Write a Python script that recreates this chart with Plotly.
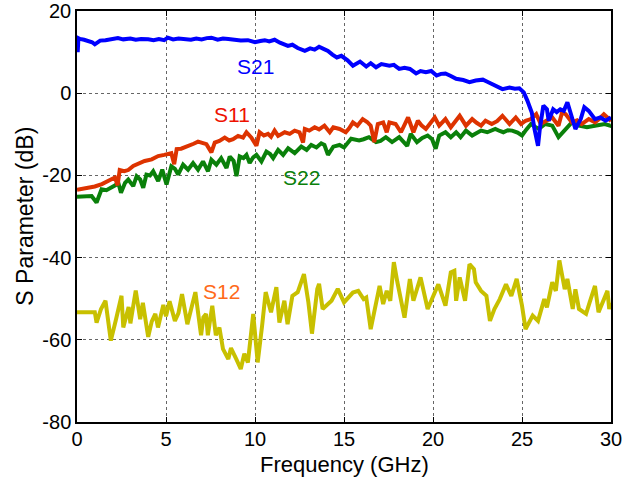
import plotly.graph_objects as go

# ---------------- data ----------------
s21_f = [0, 0.04, 0.08, 0.17, 0.4, 0.64, 0.85, 1.0, 1.3, 1.6,
         2.0, 2.3, 2.6, 3.0, 3.3, 3.6, 4.0, 4.3, 4.6, 4.9,
         5.1, 5.4, 5.7, 6.05, 6.4, 6.7, 7.0, 7.3, 7.55, 7.9,
         8.2, 8.5, 8.85, 9.2, 9.6, 10.0, 10.3, 10.55, 10.8, 11.1,
         11.4, 11.85, 12.1, 12.4, 12.8, 13.1, 13.35, 13.6, 13.85, 14.1,
         14.35, 14.6, 14.85, 15.2, 15.5, 15.9, 16.25, 16.5, 16.8, 17.1,
         17.55, 17.8, 18.1, 18.4, 18.7, 19.05, 19.3, 19.6, 19.9, 20.2,
         20.45, 20.7, 21.0, 21.3, 21.7, 22.05, 22.4, 22.8, 23.05, 23.35,
         23.6, 23.9, 24.3, 24.6, 24.85, 25.1, 25.3, 25.55, 25.7, 25.9,
         26.0, 26.2, 26.4, 26.5, 26.75, 26.95, 27.15, 27.35, 27.55, 27.8,
         28.0, 28.3, 28.5, 28.75, 29.1, 29.4, 29.7, 30.0]
s21_db = [13.6, 10.0, 13.4, 13.2, 13.0, 12.8, 12.4, 11.9, 12.8, 12.9,
          13.1, 13.4, 13.1, 13.3, 13.0, 13.2, 13.1, 12.9, 13.2, 12.9,
          13.5, 13.1, 13.3, 13.2, 13.0, 13.3, 13.1, 13.4, 13.5, 13.0,
          13.3, 13.2, 13.0, 12.8, 12.9, 12.4, 12.7, 12.9, 12.6, 13.0,
          12.3, 11.5, 11.8, 11.0, 10.3, 10.9, 10.6, 11.3, 10.8, 10.3,
          9.4, 8.7, 9.1, 8.0, 6.7, 7.7, 6.5, 7.3, 6.3, 7.1,
          6.7, 6.9, 5.9, 6.2, 5.9, 4.8, 5.4, 5.1, 5.4, 4.3,
          4.7, 4.8, 4.2, 3.5, 3.2, 2.7, 3.1, 3.3, 2.8, 2.2,
          1.8, 1.0, 1.4, 1.1, 1.2, 0.2, -1.8, -4.7, -8.7, -12.8,
          -8.7, -3.0, -3.9, -6.7, -3.9, -4.6, -3.9, -4.3, -2.2, -5.5,
          -8.7, -6.3, -3.4, -4.3, -6.3, -5.9, -6.7, -5.9]

s11_f = [0, 0.5, 1.0, 1.4, 1.76, 2.13, 2.28, 2.4, 2.65, 2.88,
         3.16, 3.35, 3.6, 3.8, 4.2, 4.56, 4.9, 5.3, 5.46, 5.6,
         5.85, 6.06, 6.3, 6.55, 6.8, 7.05, 7.27, 7.55, 7.74, 8.0,
         8.3, 8.55, 8.77, 9.05, 9.33, 9.52, 9.8, 10.08, 10.26, 10.5,
         10.73, 10.9, 11.1, 11.3, 11.5, 11.67, 11.95, 12.23, 12.5, 12.7,
         12.8, 13.05, 13.35, 13.6, 13.9, 14.2, 14.4, 14.75, 15.1, 15.3,
         15.5, 15.75, 16.05, 16.3, 16.5, 16.7, 16.9, 17.2, 17.4, 17.55,
         17.9, 18.2, 18.6, 18.9, 19.15, 19.35, 19.6, 19.85, 20.1, 20.35,
         20.7, 21.0, 21.25, 21.5, 21.85, 22.2, 22.45, 22.7, 22.95, 23.3,
         23.6, 23.9, 24.3, 24.65, 24.95, 25.2, 25.5, 25.8, 26.05, 26.4,
         26.7, 27.05, 27.25, 27.45, 27.8, 28.1, 28.35, 28.75, 29.1, 29.35,
         29.6, 29.9, 30.0]
s11_db = [-23.5, -23.1, -22.7, -22.1, -21.3, -20.5, -22.4, -18.7, -19.0, -18.7,
          -17.7, -17.3, -17.0, -16.5, -16.1, -15.3, -15.0, -14.6, -17.3, -13.6,
          -13.5, -13.2, -12.8, -12.3, -11.8, -12.2, -12.4, -14.4, -12.0, -11.6,
          -10.8, -11.5, -11.2, -10.4, -10.8, -9.5, -10.8, -12.8, -9.5, -10.3,
          -9.9, -10.6, -9.1, -10.4, -9.9, -9.5, -9.9, -9.1, -9.5, -12.0,
          -8.7, -9.1, -8.3, -8.8, -7.9, -9.5, -8.3, -8.7, -9.5, -8.5,
          -7.1, -7.9, -6.3, -7.0, -7.9, -11.9, -7.5, -7.1, -9.5, -7.1,
          -7.5, -9.5, -5.9, -9.5, -6.7, -7.8, -8.7, -7.2, -5.9, -7.9,
          -6.3, -8.3, -6.9, -5.5, -7.9, -6.3, -7.2, -7.9, -6.7, -7.5,
          -6.8, -5.5, -7.5, -5.9, -7.5, -6.7, -6.3, -5.1, -7.5, -6.7,
          -5.9, -7.9, -4.7, -5.1, -7.1, -6.6, -7.5, -6.3, -7.1, -6.2,
          -5.1, -6.3, -6.8]

s22_f = [0, 0.4, 0.82, 1.1, 1.38, 1.65, 1.94, 2.15, 2.32, 2.47,
         2.7, 2.88, 3.16, 3.35, 3.55, 3.72, 3.9, 4.1, 4.28, 4.56,
         4.79, 5.03, 5.3, 5.5, 5.68, 5.96, 6.24, 6.52, 6.8, 7.08,
         7.36, 7.55, 7.83, 8.1, 8.4, 8.58, 8.8, 8.96, 9.14, 9.35,
         9.52, 9.7, 9.9, 10.08, 10.36, 10.64, 10.85, 11.02, 11.3, 11.58,
         11.86, 12.05, 12.23, 12.6, 12.9, 13.16, 13.45, 13.72, 13.9, 14.1,
         14.4, 14.75, 15.0, 15.4, 15.85, 16.1, 16.4, 16.8, 17.05, 17.35,
         17.7, 18.1, 18.3, 18.55, 18.75, 19.1, 19.4, 19.7, 19.95, 20.15,
         20.35, 20.7, 21.0, 21.3, 21.55, 21.85, 22.2, 22.45, 22.7, 23.05,
         23.5, 23.75, 23.95, 24.2, 24.45, 24.75, 25.0, 25.25, 25.5, 25.75,
         25.95, 26.3, 26.7, 27.05, 27.45, 27.8, 28.2, 28.65, 29.1, 29.65,
         29.95, 30.0]
s22_db = [-25.2, -25.0, -25.0, -26.6, -23.4, -23.6, -23.0, -22.4, -21.8, -24.2,
          -21.8, -21.0, -22.6, -20.2, -21.0, -23.0, -19.8, -20.0, -19.0, -21.4,
          -18.6, -22.2, -17.8, -18.4, -19.8, -17.4, -18.6, -17.0, -18.6, -16.6,
          -19.0, -16.2, -17.4, -15.8, -18.2, -15.4, -16.5, -20.2, -15.4, -15.8,
          -15.0, -17.0, -15.6, -15.0, -16.6, -14.2, -14.8, -15.8, -13.8, -15.0,
          -13.4, -14.0, -14.6, -13.0, -13.8, -12.6, -13.2, -12.2, -12.6, -15.0,
          -13.0, -12.6, -13.2, -11.1, -11.5, -11.2, -10.7, -11.9, -11.6, -10.7,
          -11.9, -10.7, -11.5, -12.8, -9.9, -11.9, -10.9, -10.3, -11.2, -13.5,
          -10.3, -9.5, -10.7, -9.5, -10.7, -9.1, -10.3, -9.7, -9.1, -9.5,
          -8.7, -9.2, -9.5, -9.0, -9.1, -9.6, -10.3, -8.8, -7.5, -8.2,
          -8.7, -7.5, -7.9, -10.7, -8.7, -7.1, -7.9, -8.3, -7.9, -7.5,
          -7.9, -7.6]

s12_f = [0, 1.0, 1.1, 1.35, 1.6, 1.9, 2.2, 2.5, 2.6, 2.9,
         3.0, 3.3, 3.55, 3.7, 4.0, 4.2, 4.4, 4.55, 4.85, 5.0,
         5.2, 5.5, 5.7, 5.9, 6.2, 6.45, 6.65, 6.97, 7.1, 7.25,
         7.35, 7.6, 7.8, 8.0, 8.2, 8.5, 8.65, 8.95, 9.2, 9.4,
         9.6, 9.9, 10.15, 10.4, 10.6, 10.9, 11.2, 11.37, 11.65, 11.83,
         12.1, 12.4, 12.75, 13.0, 13.2, 13.5, 13.6, 13.8, 14.3, 14.65,
         15.0, 15.5, 15.8, 16.1, 16.25, 16.5, 16.7, 17.0, 17.2, 17.4,
         17.6, 17.8, 18.0, 18.2, 18.4, 18.7, 18.9, 19.3, 19.7, 20.1,
         20.3, 20.7, 21.0, 21.2, 21.3, 21.5, 21.8, 22.05, 22.3, 22.4,
         22.7, 23.0, 23.2, 23.45, 23.75, 24.1, 24.4, 24.7, 25.0, 25.2,
         25.6, 25.9, 26.25, 26.4, 26.7, 26.9, 27.1, 27.4, 27.55, 27.85,
         28.0, 28.2, 28.6, 28.8, 29.1, 29.3, 29.6, 29.8, 29.9, 30.0]
s12_db = [-53.3, -53.3, -55.8, -52.5, -50.5, -60.2, -54.9, -49.3, -57.0, -52.0,
          -56.0, -48.0, -55.0, -51.0, -59.3, -55.5, -53.7, -57.0, -51.5, -54.3,
          -50.6, -55.4, -53.5, -48.9, -56.2, -52.0, -48.4, -58.9, -54.5, -53.7,
          -58.9, -51.7, -58.9, -57.0, -62.2, -64.7, -62.0, -64.7, -67.1, -63.4,
          -65.5, -53.7, -65.5, -56.5, -48.4, -53.3, -47.2, -55.8, -50.5, -56.2,
          -49.3, -48.4, -44.0, -50.9, -58.5, -47.6, -46.4, -52.5, -50.5, -47.6,
          -50.9, -48.5, -48.1, -50.1, -49.7, -57.4, -52.9, -46.9, -51.3, -48.1,
          -50.5, -41.1, -46.0, -50.1, -54.6, -45.2, -50.5, -44.8, -52.5, -48.5,
          -46.5, -51.7, -43.6, -43.2, -50.5, -44.8, -50.5, -41.6, -42.8, -46.0,
          -48.1, -49.3, -55.4, -52.5, -50.1, -46.5, -49.3, -45.2, -51.7, -57.4,
          -54.1, -55.4, -50.1, -52.1, -46.0, -48.1, -40.7, -47.7, -45.2, -52.5,
          -47.7, -52.5, -53.7, -50.9, -46.9, -53.3, -50.1, -48.1, -52.5, -51.0]

x_ticks = [0, 5, 10, 15, 20, 25, 30]
y_ticks = [-80, -60, -40, -20, 0, 20]
y_tick_labels = ["-80", "-60", "-40", "-20", "0", "20"]

series_names = ["S21", "S11", "S22", "S12"]
label_pos = {"S21": (10.0, 6.4), "S11": (8.7, -5.3), "S22": (12.6, -20.6), "S12": (8.1, -48.2)}
# ---------------------------------------

line_colors = {"S21": "#0000ff", "S11": "#dd3300", "S22": "#0a800a", "S12": "#c8c000"}
label_colors = {"S21": "#0000ff", "S11": "#ee1100", "S22": "#0a800a", "S12": "#ff6a1a"}
series = {"S21": (s21_f, s21_db), "S11": (s11_f, s11_db),
          "S22": (s22_f, s22_db), "S12": (s12_f, s12_db)}

FONT = "Liberation Sans, Arial, sans-serif"
fig = go.Figure()
for name in ["S12", "S22", "S11", "S21"]:
    xs, ys = series[name]
    fig.add_trace(go.Scatter(x=xs, y=ys, mode="lines", name=name,
                             line=dict(color=line_colors[name], width=4),
                             showlegend=False, hoverinfo="skip"))

for name in series_names:
    lx, ly = label_pos[name]
    fig.add_annotation(x=lx, y=ly, xref="x", yref="y", text=name, showarrow=False,
                       font=dict(family=FONT, size=21, color=label_colors[name]))

fig.add_annotation(x=0.5, y=-0.103, xref="paper", yref="paper", text="Frequency (GHz)",
                   showarrow=False, xanchor="center", yanchor="middle",
                   font=dict(family=FONT, size=22, color="black"))
fig.add_annotation(x=-0.099, y=0.5, xref="paper", yref="paper", text="S Parameter (dB)",
                   showarrow=False, textangle=-90, xanchor="center", yanchor="middle",
                   font=dict(family=FONT, size=23, color="black"))

axis_common = dict(showline=True, linecolor="black", linewidth=1.5, mirror="ticks",
                   ticks="inside", ticklen=5, tickcolor="black", tickwidth=1,
                   showgrid=True, gridcolor="#666666", gridwidth=1, griddash="dot",
                   zeroline=False, automargin=False,
                   tickfont=dict(family=FONT, size=20, color="black"))
fig.update_xaxes(range=[0, 30], tickmode="array", tickvals=x_ticks,
                 ticktext=[str(t) for t in x_ticks], ticklabelstandoff=-2, **axis_common)
fig.update_yaxes(range=[-80, 20], tickmode="array", tickvals=y_ticks,
                 ticktext=y_tick_labels, **axis_common)

fig.update_layout(width=623, height=479, margin=dict(l=77, r=12, t=11, b=57),
                  paper_bgcolor="white", plot_bgcolor="white")
fig.write_html("out.html")
